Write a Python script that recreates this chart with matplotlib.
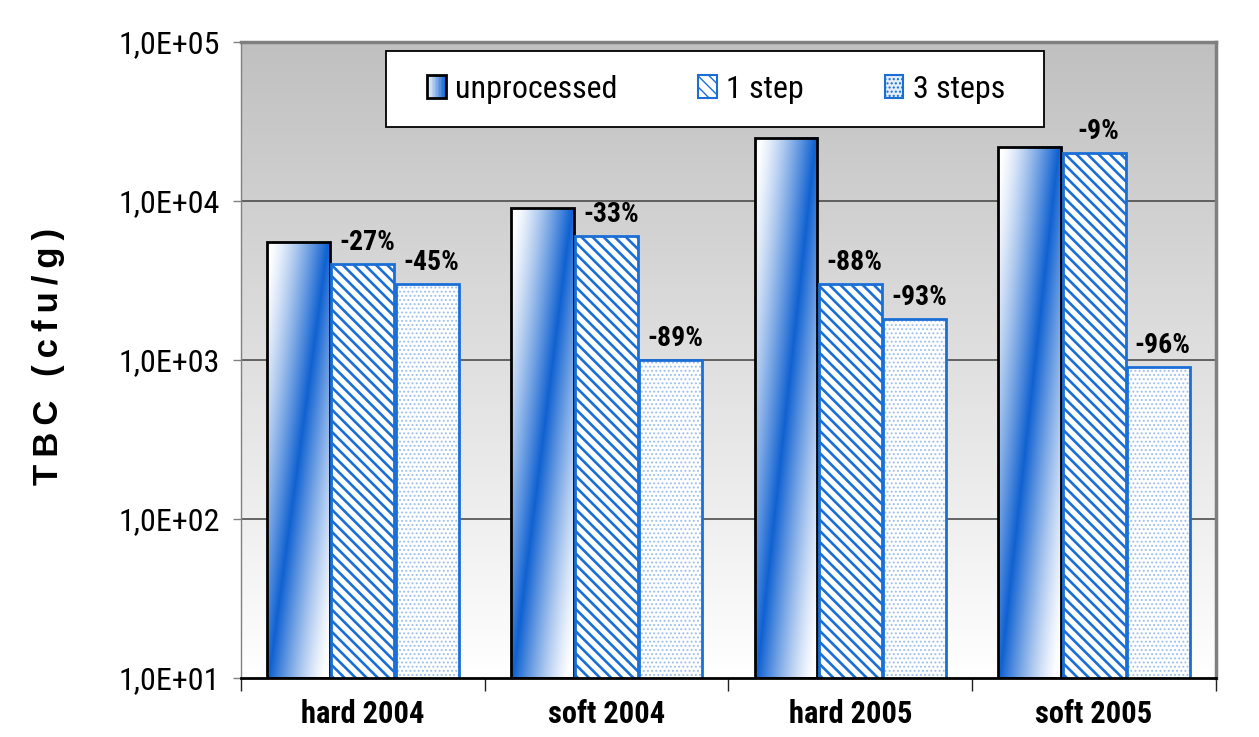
import matplotlib
matplotlib.use("Agg")
import matplotlib.pyplot as plt
import numpy as np
from matplotlib.patches import Rectangle
from matplotlib.legend_handler import HandlerBase

# data
categories = ["hard 2004", "soft 2004", "hard 2005", "soft 2005"]
unprocessed = [5500, 9000, 25000, 22000]
one_step = [4000, 6000, 3000, 20000]
three_steps = [3000, 1000, 1800, 900]
one_step_pct = ["-27%", "-33%", "-88%", "-9%"]
three_steps_pct = ["-45%", "-89%", "-93%", "-96%"]
yticks = [1e1, 1e2, 1e3, 1e4, 1e5]
ytick_labels = ["1,0E+01", "1,0E+02", "1,0E+03", "1,0E+04", "1,0E+05"]

narrow = ["Roboto Condensed", "Liberation Sans", "DejaVu Sans"]
BLUE = np.array([0.06, 0.38, 0.82])
EDGE = "#1a6fd6"
DOTS = "#9dc0ee"

fig = plt.figure(figsize=(12.59, 7.37), dpi=100)
ax = fig.add_axes([0.1914, 0.0801, 0.7744, 0.8629])
ax.set_yscale("log")
ax.set_ylim(1e1, 1e5)
ax.set_xlim(-0.5, 3.5)

# grey (top) -> white (bottom) background
bg = np.linspace(0.753, 1.0, 256).reshape(-1, 1)
ax.imshow(np.dstack([bg, bg, bg]), extent=[0, 1, 0, 1], origin="upper", transform=ax.transAxes,
          aspect="auto", zorder=0, interpolation="bilinear")

for yv in yticks[1:-1]:
    ax.axhline(yv, color="#404040", lw=1.1, zorder=1)

x = np.arange(len(categories))
w = 0.258
off = 0.264


def grad_img(n=200):
    yy, xx = np.mgrid[0:1:n * 1j, 0:1:n * 1j]
    c = 0.03 + 0.94 * yy
    t = np.clip(1 - np.abs(xx - c) / 0.9, 0, 1) ** 1.3
    return 1 - t[..., None] * (1 - BLUE[None, None, :])


to_axes = ax.transData + ax.transAxes.inverted()
bars0 = ax.bar(x - off, unprocessed, w, bottom=10, facecolor="none",
               edgecolor="black", lw=2, zorder=4)
for b in bars0:
    (x0, y0), (x1, y1) = to_axes.transform([[b.get_x(), 10], [b.get_x() + b.get_width(), b.get_height() + 10]])
    ax.imshow(grad_img(), extent=[x0, x1, y0, y1], origin="lower", transform=ax.transAxes,
              aspect="auto", zorder=3, interpolation="bilinear")

with plt.rc_context({"hatch.linewidth": 1.9}):
    ax.bar(x, one_step, w, facecolor="white", edgecolor=EDGE, hatch="\\\\\\", lw=0, zorder=3)
    h1 = Rectangle((0, 0), 1, 1, facecolor="white", edgecolor=EDGE, hatch="\\\\\\", lw=1.5)
ax.bar(x, one_step, w, facecolor="none", edgecolor=EDGE, lw=2, zorder=4)
with plt.rc_context({"hatch.linewidth": 0.9}):
    ax.bar(x + off, three_steps, w, facecolor="white", edgecolor=DOTS, hatch="....", lw=0, zorder=3)
    h2 = Rectangle((0, 0), 1, 1, facecolor="#e4eefa", edgecolor=EDGE, hatch="....", lw=1.5)
ax.bar(x + off, three_steps, w, facecolor="none", edgecolor=EDGE, lw=2, zorder=4)

for xi, v, s in zip(x, one_step, one_step_pct):
    ax.annotate(s, (xi, v), xytext=(3, 6), textcoords="offset points", ha="center", va="bottom",
                fontsize=20, fontweight="bold", family=narrow, zorder=5)
for xi, v, s in zip(x + off, three_steps, three_steps_pct):
    ax.annotate(s, (xi, v), xytext=(3, 6), textcoords="offset points", ha="center", va="bottom",
                fontsize=20, fontweight="bold", family=narrow, zorder=5)

ax.set_xticks(x)
ax.set_xticklabels(categories, fontsize=22, fontweight="bold", family=narrow)
ax.set_xticks(np.arange(-0.5, 4, 1), minor=True)
ax.tick_params(axis="x", which="major", length=0, pad=15)
ax.tick_params(axis="x", which="minor", length=9, width=1, color="#202020", direction="out")
ax.set_yticks(yticks)
ax.set_yticklabels(ytick_labels, fontsize=23, family=narrow)
ax.yaxis.set_minor_locator(matplotlib.ticker.NullLocator())
ax.tick_params(axis="y", length=6, width=1, color="#808080", pad=9)

ax.set_ylabel("T\u2009B\u2009C\u2009 \u2009(\u2009c\u2009f\u2009u\u2009/\u2009g\u2009)", fontsize=25,
              fontweight="bold", family=["Liberation Sans", "DejaVu Sans"])
ax.yaxis.set_label_coords(-0.1805, 0.505)

for s in ["top", "right"]:
    ax.spines[s].set_color("#7f7f7f")
    ax.spines[s].set_linewidth(2.5)
ax.spines["left"].set_color("#808080")
ax.spines["left"].set_linewidth(1)
ax.spines["bottom"].set_color("black")
ax.spines["bottom"].set_linewidth(2)
for s in ax.spines.values():
    s.set_zorder(6)


class GradHandler(HandlerBase):
    def create_artists(self, legend, orig_handle, xd, yd, width, height, fontsize, trans):
        arts = []
        n = 12
        for i in range(n):
            t = (i + 0.5) / n
            col = 1 - t * (1 - BLUE)
            arts.append(Rectangle((-xd + width * i / n, -yd), width / n, height,
                                  facecolor=col, edgecolor="none", transform=trans))
        arts.append(Rectangle((-xd, -yd), width, height, facecolor="none",
                              edgecolor="black", lw=2, transform=trans))
        return arts


# legend box drawn separately so the entries can sit inside it like the original
ax.add_patch(Rectangle((0.1487, 0.8664), 0.6749, 0.1194, transform=ax.transAxes,
                       facecolor="white", edgecolor="black", lw=1.3, zorder=7))
h0 = Rectangle((0, 0), 1, 1)
leg = ax.legend([h0, h1, h2], ["unprocessed", "1 step", "3 steps"], ncol=3,
                loc="center", bbox_to_anchor=(0.1908, 0.9261, 0.5928, 0), mode="expand",
                handler_map={h0: GradHandler()}, prop={"family": narrow, "size": 23},
                frameon=False, handlelength=0.58, handleheight=0.72, handletextpad=0.3,
                borderpad=0, borderaxespad=0)
leg.set_zorder(8)

fig.savefig("out.png", dpi=100)
